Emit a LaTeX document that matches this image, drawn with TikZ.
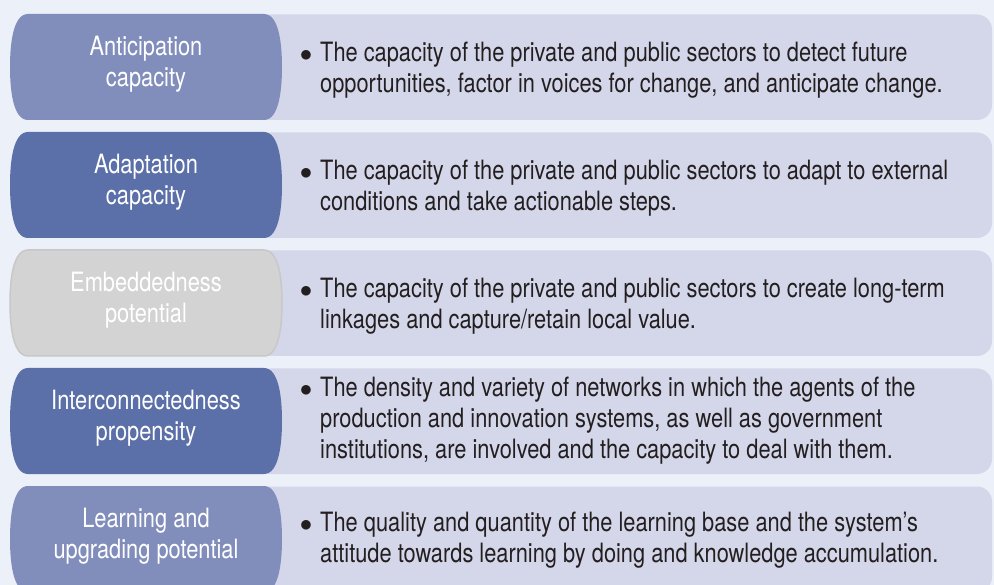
\documentclass[tikz,border=0pt]{standalone}
\usepackage{fontspec}
\setmainfont{TeX Gyre Heros}[FakeStretch=0.82]
\usepackage{tikz}

\definecolor{pagebg}{RGB}{236,240,249}
\definecolor{descbg}{RGB}{212,214,233}
\definecolor{lightblue}{RGB}{129,141,187}
\definecolor{darkblue}{RGB}{91,111,168}
\definecolor{greyfill}{RGB}{211,211,211}
\definecolor{greyline}{RGB}{200,200,200}
\definecolor{inktext}{RGB}{35,31,32}

\newcommand{\barrel}{(28,0) -- (264,0) .. controls (279,0) and (282,30) .. (282,53)
  .. controls (282,76) and (279,106) .. (264,106) -- (28,106)
  .. controls (13,106) and (10,76) .. (10,53) .. controls (10,30) and (13,0) .. (28,0) -- cycle}
\newcommand{\bulletmark}{\llap{$\bullet$\hspace{8pt}}}

\begin{document}
\begin{tikzpicture}[x=1pt,y=-1pt,
  descbox/.style={fill=descbg,rounded corners=15pt},
  label/.style={text=white,align=center,font=\fontsize{26.6}{31}\selectfont},
  desc/.style={text=inktext,align=left,anchor=west,inner sep=0pt,font=\fontsize{26.6}{31}\selectfont}]
\fill[pagebg] (0,0) rectangle (994,585);
\useasboundingbox (0,0) rectangle (994,585);

% anticipation
\begin{scope}[yshift=-14pt]
\fill[descbox] (256,0.5) rectangle (992,106);
\fill[lightblue] \barrel;
\node[label] (ant) at (146,50) {Anticipation\\capacity};
\node[desc] (antd) at (320,56) {\bulletmark The capacity of the private and public sectors to detect future\\
opportunities, factor in voices for change, and anticipate change.};
\end{scope}

% adaptation
\begin{scope}[yshift=-132pt]
\fill[descbox] (256,0.5) rectangle (992,106);
\fill[darkblue] \barrel;
\node[label] (ada) at (146,50) {Adaptation\\capacity};
\node[desc] (adad) at (320,56) {\bulletmark The capacity of the private and public sectors to adapt to external\\
conditions and take actionable steps.};
\end{scope}

% embeddedness
\begin{scope}[yshift=-250pt]
\fill[descbox] (256,0.5) rectangle (992,106);
\filldraw[fill=greyfill,draw=greyline,line width=1.5pt] \barrel;
\node[label] (emb) at (146,50) {Embeddedness\\potential};
\node[desc] (embd) at (320,56) {\bulletmark The capacity of the private and public sectors to create long-term\\
linkages and capture/retain local value.};
\end{scope}

% interconnectedness
\begin{scope}[yshift=-368pt]
\fill[descbox] (256,0.5) rectangle (992,106);
\fill[darkblue] \barrel;
\node[label] (int) at (146,50) {Interconnectedness\\propensity};
\node[desc] (intd) at (320,53) {\bulletmark The density and variety of networks in which the agents of the\\
production and innovation systems, as well as government\\
institutions, are involved and the capacity to deal with them.};
\end{scope}

% learning
\begin{scope}[yshift=-486pt]
\fill[descbox] (256,0.5) rectangle (992,106);
\fill[lightblue] \barrel;
\node[label] (lea) at (146,50) {Learning and\\upgrading potential};
\node[desc] (lead) at (320,54) {\bulletmark The quality and quantity of the learning base and the system's\\
attitude towards learning by doing and knowledge accumulation.};
\end{scope}
\end{tikzpicture}
\end{document}
